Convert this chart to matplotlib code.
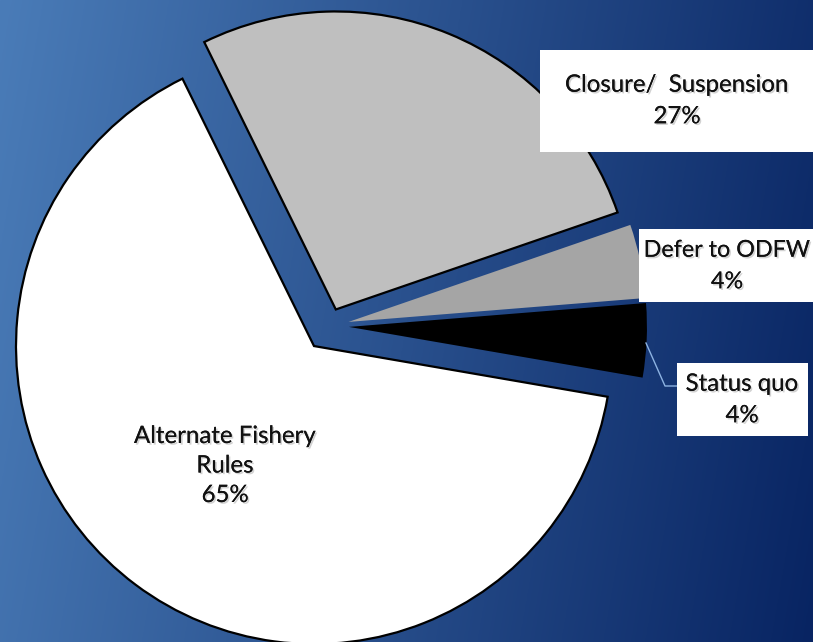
import numpy as np
import matplotlib
matplotlib.use('Agg')
import matplotlib.pyplot as plt
import matplotlib.patheffects as pe
from matplotlib.patches import Rectangle

# data
categories = ['Alternate Fishery\nRules', 'Closure/  Suspension', 'Defer to ODFW', 'Status quo']
values = [65, 27, 4, 4]
colors = ['#ffffff', '#bfbfbf', '#a5a5a5', '#000000']
explode = [0.084, 0.06, 0.067, 0.067]

W, H = 813, 642
fig = plt.figure(figsize=(W / 100, H / 100), dpi=100)

# background gradient (light blue left -> navy right)
bg = fig.add_axes([0, 0, 1, 1])
xx = np.linspace(0, 1, 400)
yy = np.linspace(0, 1, 300)
X, Y = np.meshgrid(xx, yy)
t = np.clip(0.88 * X + 0.12 * Y, 0, 1)
left = np.array([74, 124, 184]) / 255
right = np.array([8, 36, 98]) / 255
img = left[None, None, :] * (1 - t[..., None]) + right[None, None, :] * t[..., None]
bg.imshow(img, extent=[0, 1, 0, 1], aspect='auto', origin='upper')
bg.set_axis_off()

# pie axes, 1 data unit = 298 px
R = 298.0
cx, cy = 329.0, 326.0
ax = fig.add_axes([0, 0, 1, 1])
ax.patch.set_alpha(0)
wedges, _ = ax.pie(values, colors=colors, explode=explode, startangle=-9.8,
                   counterclock=False, radius=1.0)
for w, c in zip(wedges, colors):
    if c in ('#ffffff', '#bfbfbf'):
        w.set_edgecolor('black')
        w.set_linewidth(1.6)
    else:
        w.set_edgecolor('none')
ax.set_aspect('auto')
ax.set_xlim(-cx / R, (W - cx) / R)
ax.set_ylim(-(H - cy) / R, cy / R)
ax.set_axis_off()


def fx(x):
    return x / W


def fy(y):
    return 1 - y / H


shadow = [pe.withSimplePatchShadow(offset=(1.2, -1.2), shadow_rgbFace='gray', alpha=0.35), pe.Normal()]
font = dict(family=['Lato', 'DejaVu Sans'], color='#111111', ha='center', va='center')

# label boxes (left, top, right, bottom in px), text centres and sizes
boxes = [(540, 50, 813, 152), (639, 229, 813, 302), (677, 363, 808, 436)]
centres = [(677, 101), (727, 266), (742, 400)]
sizes = [17.3, 16.8, 17.3]
for i, (b, c, s) in enumerate(zip(boxes, centres, sizes)):
    fig.add_artist(Rectangle((fx(b[0]), fy(b[3])), fx(b[2] - b[0]), (b[3] - b[1]) / H,
                             transform=fig.transFigure, facecolor='white',
                             edgecolor='none', zorder=5))
    fig.text(fx(c[0]), fy(c[1]), f'{categories[i + 1]}\n{values[i + 1]}%',
             zorder=6, path_effects=shadow, linespacing=1.62, fontsize=s, **font)

# leader line for Status quo
fig.add_artist(plt.Line2D([fx(646), fx(665), fx(677)], [fy(343), fy(386), fy(386)],
                          transform=fig.transFigure, color='#8db3e2', lw=1.0, zorder=4))

fig.text(fx(225), fy(466), f'{categories[0]}\n{values[0]}%', zorder=6,
         path_effects=shadow, linespacing=1.5, fontsize=17.3, **font)

fig.savefig('out.png', dpi=100)
